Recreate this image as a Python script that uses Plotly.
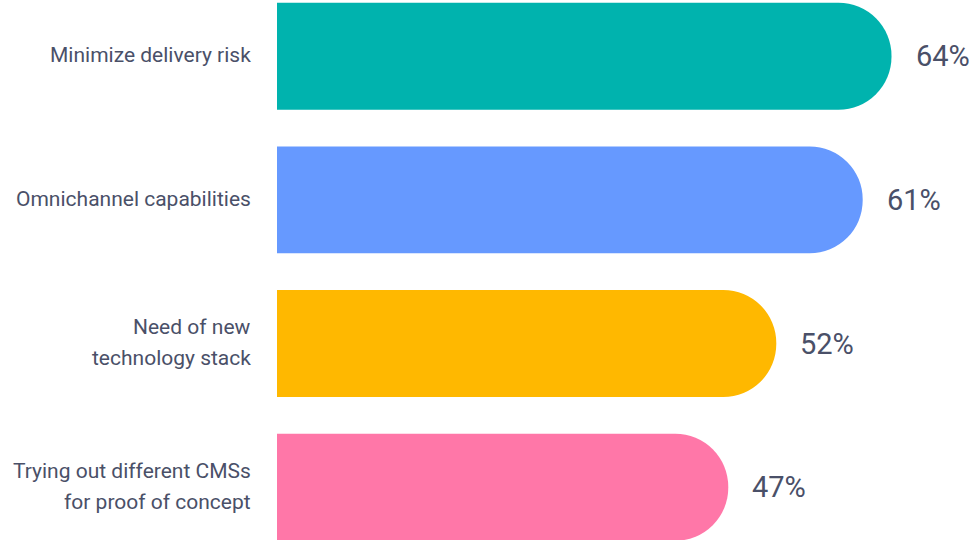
import plotly.graph_objects as go

categories = [
    "Minimize delivery risk",
    "Omnichannel capabilities",
    "Need of new<br>technology stack",
    "Trying out different CMSs<br>for proof of concept",
]
values = [64, 61, 52, 47]
colors = ["#00B3AE", "#6699FF", "#FFB800", "#FF77A8"]
value_labels = [f"{v}%" for v in values]

text_color = "#4A5068"
LINE_GAP = 31  # px between label lines

fig = go.Figure(
    go.Bar(
        x=values,
        y=categories,
        orientation="h",
        marker=dict(color=colors, line=dict(width=0), cornerradius="50%"),
        hoverinfo="skip",
    )
)

# value labels
for c, v, t in zip(categories, values, value_labels):
    fig.add_annotation(
        x=v, y=c, text=t, showarrow=False, xanchor="left", yanchor="middle",
        xshift=22, font=dict(family="Roboto", size=29, color=text_color),
    )

# category labels (one annotation per line for custom line spacing)
for c in categories:
    lines = c.split("<br>")
    n = len(lines)
    for k, line in enumerate(lines):
        shift = ((n - 1) / 2 - k) * LINE_GAP
        fig.add_annotation(
            x=0, y=c, text=line, showarrow=False, xanchor="right", yanchor="middle",
            xshift=-24, yshift=shift + 1,
            font=dict(family="Roboto", size=21, color=text_color),
        )

fig.update_layout(
    width=976, height=540,
    margin=dict(l=277, r=0, t=0, b=0),
    paper_bgcolor="white", plot_bgcolor="white",
    bargap=0.2554,
    showlegend=False,
    xaxis=dict(range=[0, 72.8], visible=False, fixedrange=True),
    yaxis=dict(
        type="category",
        range=[3.367, -0.391],
        showgrid=False, zeroline=False, showline=False,
        showticklabels=False, ticks="",
    ),
)

fig.write_html("out.html")
